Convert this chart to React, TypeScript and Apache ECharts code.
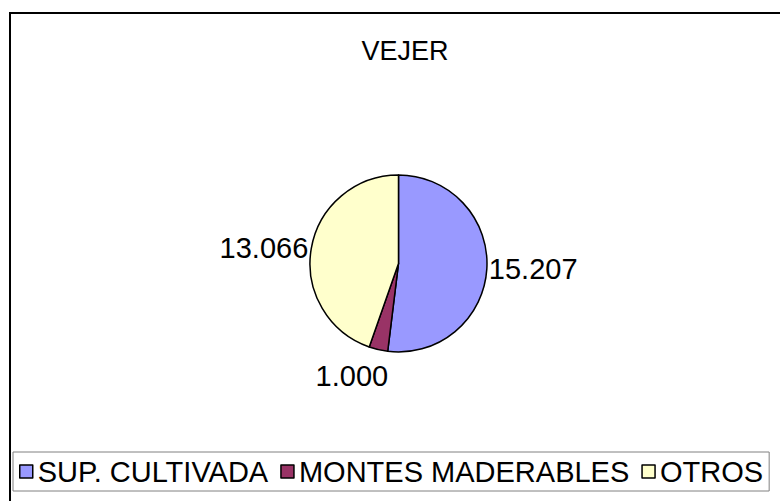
import React, { useEffect, useRef } from "react";
import * as echarts from "echarts";

const title = "VEJER";
const categories = ["SUP. CULTIVADA", "MONTES MADERABLES", "OTROS"];
const values = [15207, 1000, 13066];
const colors = ["#9999FF", "#993366", "#FFFFCC"];
const labelTexts = ["15.207", "1.000", "13.066"];
// label line lengths per slice (label placement, Excel-like)
const lineLen = [2, 27, 3];
const lineLen2 = [0, -16, 0];

const FONT = "'Liberation Sans', Arial, sans-serif";

export default function App() {
  const ref = useRef<HTMLDivElement>(null);
  useEffect(() => {
    if (!ref.current) return;
    const chart = echarts.init(ref.current, undefined, { renderer: "svg" });
    const data = categories.map((name, i) => ({
      name,
      value: values[i],
      itemStyle: { color: colors[i] },
      label: { formatter: labelTexts[i], distanceToLabelLine: 0 },
      labelLine: { show: false, length: lineLen[i], length2: lineLen2[i] },
    }));
    chart.setOption({
      animation: false,
      backgroundColor: "#ffffff",
      title: {
        text: title,
        left: 400,
        top: 32,
        textAlign: "center",
        textStyle: { fontSize: 27, fontWeight: "normal", color: "#000", fontFamily: FONT },
      },
      legend: {
        data: categories,
        left: 13,
        top: 452,
        padding: [5, 6, 5, 6],
        itemGap: 12,
        itemWidth: 13,
        itemHeight: 13,
        icon: "path://M0,0H10V10H0Z",
        borderColor: "#808080",
        borderWidth: 1,
        itemStyle: { borderColor: "#000", borderWidth: 1.5 },
        textStyle: { fontSize: 29, color: "#000", fontFamily: FONT },
        selectedMode: false,
      },
      graphic: [
        {
          type: "rect",
          shape: { x: 10, y: 13, width: 800, height: 520 },
          style: { fill: "none", stroke: "#000", lineWidth: 2 },
          silent: true,
          z: -1,
        },
      ],
      series: [
        {
          type: "pie",
          center: [398.5, 263.5],
          radius: 88.5,
          startAngle: 90,
          clockwise: true,
          avoidLabelOverlap: false,
          silent: true,
          emphasis: { disabled: true },
          itemStyle: { borderColor: "#000", borderWidth: 1.5 },
          label: {
            show: true,
            position: "outside",
            fontSize: 29,
            color: "#000",
            fontFamily: FONT,
          },
          data,
        },
      ],
    });
    return () => chart.dispose();
  }, []);
  return (
    <div
      ref={ref}
      style={{ position: "fixed", left: 0, top: 0, width: 780, height: 501, background: "#fff" }}
    />
  );
}
